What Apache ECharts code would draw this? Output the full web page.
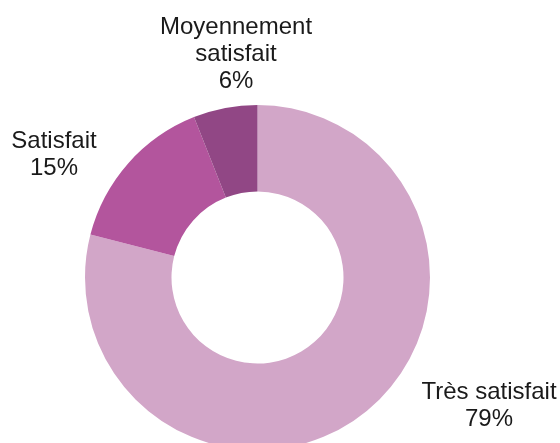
<!DOCTYPE html>
<html>
<head>
<meta charset="utf-8">
<script src="https://cdn.jsdelivr.net/npm/echarts@6/dist/echarts.min.js"></script>
<style>
html, body { margin: 0; padding: 0; background: #fff; }
#main { width: 560px; height: 443px; }
</style>
</head>
<body>
<div id="main"></div>
<script>
var names = ['Très satisfait', 'Satisfait', 'Moyennement\nsatisfait'];
var values = [79, 15, 6];
var colors = ['#d2a6c8', '#b3559d', '#914785'];

// where each label block sits (centre of text block)
var labelPos = [[489, 406], [54, 155], [236, 54]];

var chart = echarts.init(document.getElementById('main'));

var pieData = [];
for (var i = 0; i < names.length; i++) {
	pieData.push({ name: names[i], value: values[i], itemStyle: { color: colors[i] } });
}

var option = {
	animation: false,
	series: [{
		type: 'pie',
		center: [257.5, 277.5],
		radius: [86, 172.5],
		startAngle: 90,
		clockwise: true,
		avoidLabelOverlap: false,
		itemStyle: { borderWidth: 0 },
		label: {
			show: true,
			position: 'outside',
			formatter: function (p) { return p.name + '\n' + p.value + '%'; },
			fontFamily: 'Liberation Sans, Arial, sans-serif',
			fontSize: 24,
			lineHeight: 27,
			color: '#1a1a1a',
			align: 'center'
		},
		labelLine: { show: false },
		labelLayout: function (params) {
			var pos = labelPos[params.dataIndex];
			return { x: pos[0], y: pos[1], align: 'center', verticalAlign: 'middle' };
		},
		data: pieData
	}]
};
chart.setOption(option);
</script>
</body>
</html>
